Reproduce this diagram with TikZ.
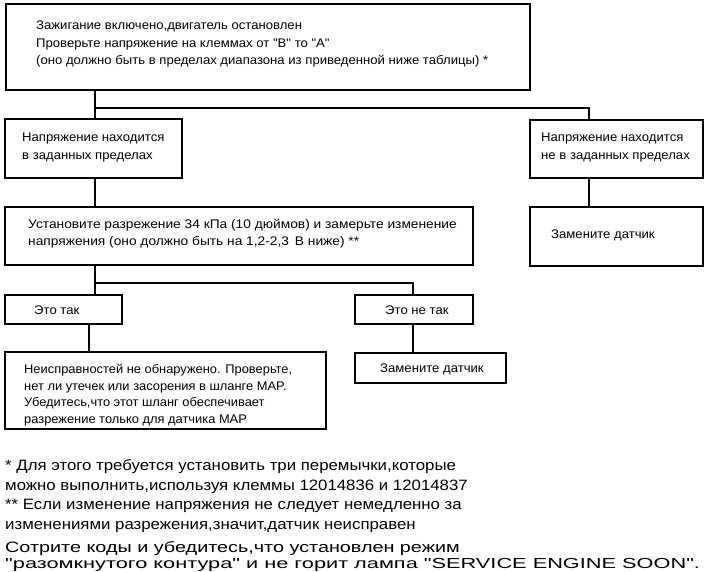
\documentclass[tikz,border=0pt]{standalone}
\usepackage{fontspec}
\setmainfont{Liberation Sans}
\newfontfamily\boxfont[FakeStretch=1.05]{Liberation Sans}
\newfontfamily\boxwidefont[FakeStretch=1.1]{Liberation Sans}
\newfontfamily\boxnarrowfont[FakeStretch=1.03]{Liberation Sans}
\newfontfamily\notefont[FakeStretch=1.12]{Liberation Sans}
\newfontfamily\lastafont[FakeStretch=1.32]{Liberation Sans}
\newfontfamily\lastbfont[FakeStretch=1.5]{Liberation Sans}
\begin{document}
\begin{tikzpicture}[x=1pt,y=-1pt,
  box/.style={draw, line width=1.3pt, inner sep=0pt, outer sep=0pt, anchor=north west},
  conn/.style={line width=1.3pt},
  btext/.style={anchor=north west, inner sep=0pt, align=left, font=\boxfont\fontsize{12.5}{17.5}\selectfont},
  ntext/.style={anchor=north west, inner sep=0pt, align=left, font=\notefont\fontsize{15}{19.6}\selectfont}]
\useasboundingbox[fill=white] (0,0) rectangle (710,572);
% boxes
\node[box, minimum width=524pt, minimum height=86pt] (top) at (6,4) {};
\node[box, minimum width=177pt, minimum height=59pt] (b1) at (5,119) {};
\node[box, minimum width=173pt, minimum height=58pt] (b2) at (530,120) {};
\node[box, minimum width=468pt, minimum height=58pt] (b3) at (5,207) {};
\node[box, minimum width=173pt, minimum height=59pt] (b4) at (530,207) {};
\node[box, minimum width=117pt, minimum height=29pt] (b5) at (5,295) {};
\node[box, minimum width=118pt, minimum height=29pt] (b6) at (355,295) {};
\node[box, minimum width=321pt, minimum height=77pt] (b7) at (5,352) {};
\node[box, minimum width=151pt, minimum height=30pt] (b8) at (355,353) {};
% texts
\node[btext] (t0) at (36,21) {Зажигание включено,двигатель остановлен\\Проверьте напряжение на клеммах от "В" то "А"\\(оно должно быть в пределах диапазона из приведенной ниже таблицы) *};
\node[btext] (t1) at (22,133) {Напряжение находится\\в заданных пределах};
\node[btext] (t2) at (541,133) {Напряжение находится\\не в заданных пределах};
\node[btext, font=\boxwidefont\fontsize{12.5}{17.5}\selectfont] (t3) at (28,219) {Установите разрежение 34 кПа (10 дюймов) и замерьте изменение\\напряжения (оно должно быть на 1,2-2,3 \,В ниже) **};
\node[btext] (t4) at (551,230) {Замените датчик};
\node[btext] (t5) at (34,306) {Это так};
\node[btext] (t6) at (385,306) {Это не так};
\node[btext, font=\boxnarrowfont\fontsize{12.5}{16.7}\selectfont] (t7) at (24,364) {Неисправностей не обнаружено. Проверьте,\\нет ли утечек или засорения в шланге MAP.\\Убедитесь,что этот шланг обеспечивает\\разрежение только для датчика MAP};
\node[btext] (t8) at (380,364) {Замените датчик};
\node[ntext] (n1) at (5,459.5) {* Для этого требуется установить три перемычки,которые\\можно выполнить,используя клеммы 12014836 и 12014837\\** Если изменение напряжения не следует немедленно за\\изменениями разрежения,значит,датчик неисправен};
\node[ntext, font=\lastafont\fontsize{15}{18}\selectfont] (n2) at (5,541.5) {Сотрите коды и убедитесь,что установлен режим};
\node[ntext, font=\lastbfont\fontsize{14.5}{18}\selectfont] (n3) at (5,558) {"разомкнутого контура" и не горит лампа "SERVICE ENGINE SOON".};
% connectors
\coordinate (j1) at (95,108);
\coordinate (j2) at (589,108);
\coordinate (j3) at (95,283);
\coordinate (j4) at (413,283);
\coordinate (j5) at (89,324);
\draw[conn] (top.south -| j1) -- (b1.north -| j1);
\draw[conn] (j1) -- (j2) -- (b2.north -| j2);
\draw[conn] (b1.south -| j1) -- (b3.north -| j1);
\draw[conn] (b2.south -| j2) -- (b4.north -| j2);
\draw[conn] (b3.south -| j3) -- (b5.north -| j3);
\draw[conn] (j3) -- (j4) -- (b6.north -| j4);
\draw[conn] (b5.south -| j5) -- (b7.north -| j5);
\draw[conn] (b6.south -| j4) -- (b8.north -| j4);
\end{tikzpicture}
\end{document}
